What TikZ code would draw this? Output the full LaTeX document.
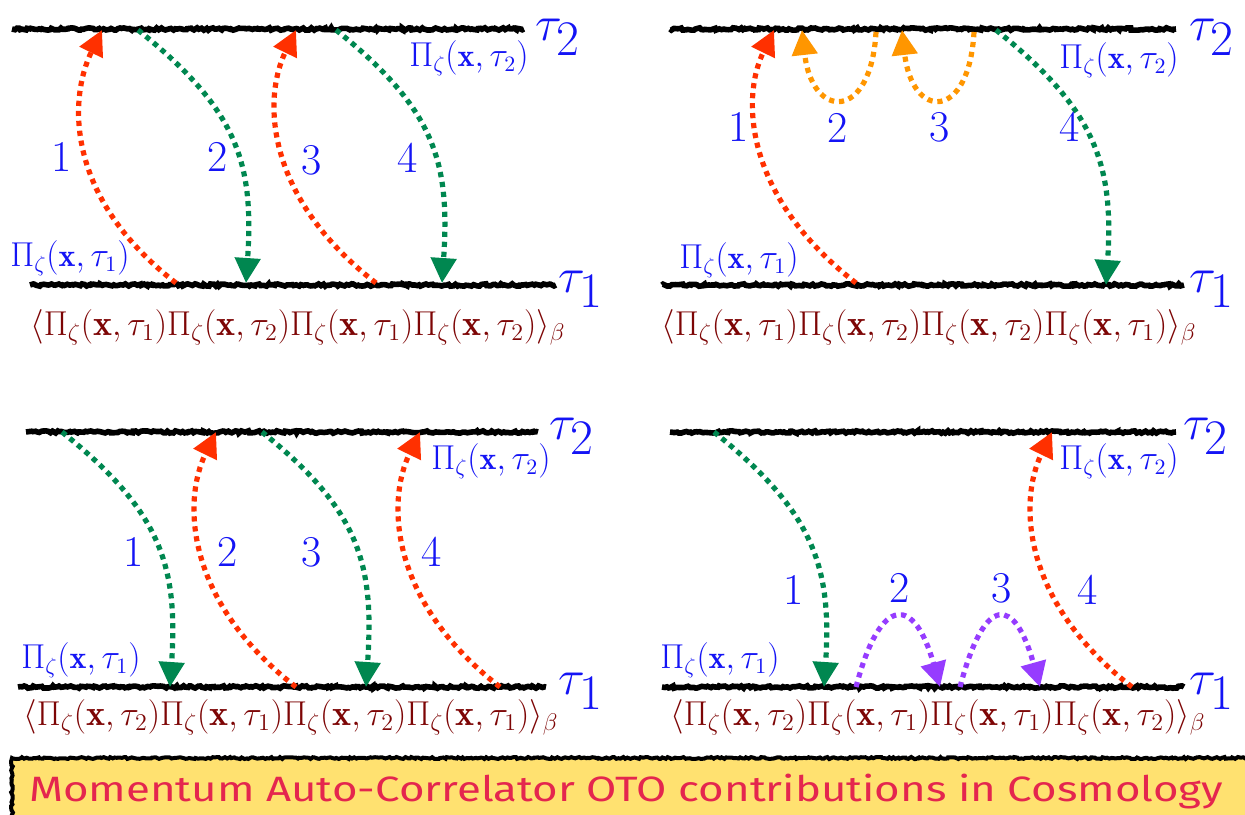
\documentclass[tikz,border=0pt]{standalone}
\usepackage{fontspec}
\usetikzlibrary{arrows.meta,decorations.pathmorphing}
\newfontfamily\bannerfont[FakeStretch=1.245]{Fira Sans}
\definecolor{wickred}{RGB}{255,48,0}
\definecolor{wickgreen}{RGB}{0,135,80}
\definecolor{wickorange}{RGB}{255,150,0}
\definecolor{wickpurple}{RGB}{150,60,255}
\definecolor{lblblue}{RGB}{20,20,245}
\definecolor{corrred}{RGB}{125,5,5}
\definecolor{bannerfill}{RGB}{255,225,112}
\definecolor{bannertext}{RGB}{228,38,78}
\newcommand{\Pz}[1]{\Pi_{\zeta}(\mathbf{x},\tau_{#1})}

\begin{document}
\begin{tikzpicture}[x=0.5pt,y=-0.5pt,
    timeline/.style={black,line width=2.8pt,decorate,
        decoration={random steps,segment length=1.1pt,amplitude=0.6pt}},
    wick/.style={line width=2.6pt,dash pattern=on 2.6pt off 2.4pt,
        -{Triangle[length=12.5pt,width=12.5pt]}},
    numlbl/.style={text=lblblue,font=\fontsize{22}{26}\selectfont},
    taulbl/.style={text=lblblue,font=\fontsize{33}{37}\selectfont},
    pilbl/.style={text=lblblue,font=\fontsize{16}{19}\selectfont},
    corrlbl/.style={text=corrred,font=\fontsize{18}{21}\selectfont}]
    \useasboundingbox (0,0) rectangle (1245,814);

    % top left
    \coordinate (a2w) at (12,29);  \coordinate (a2e) at (524,29);
    \coordinate (a1w) at (30,285); \coordinate (a1e) at (556,285);
    \draw[timeline] (a2w) -- (a2e);
    \draw[timeline] (a1w) -- (a1e);
    \node[taulbl] (a-tau2) at (558,37) {$\tau_2$};
    \node[taulbl] (a-tau1) at (581,289) {$\tau_1$};
    \node[pilbl] (a-pi2) at (469,58) {$\Pz{2}$};
    \node[pilbl] (a-pi1) at (70,258) {$\Pz{1}$};
    \node[corrlbl] (a-corr) at (298,327) {$\langle\Pz{1}\Pz{2}\Pz{1}\Pz{2}\rangle_{\beta}$};
    \coordinate (a-s1) at (176,283); \coordinate (a-e1) at (102,30);
    \coordinate (a-s2) at (138,30);  \coordinate (a-e2) at (246,283);
    \coordinate (a-s3) at (376,283); \coordinate (a-e3) at (296,30);
    \coordinate (a-s4) at (336,30);  \coordinate (a-e4) at (442,283);
    \draw[wick,wickred] (a-s1) .. controls +(-110,-85) and +(-34,70) .. (a-e1);
    \draw[wick,wickgreen] (a-s2) .. controls +(100,80) and +(8,-120) .. (a-e2);
    \draw[wick,wickred] (a-s3) .. controls +(-110,-85) and +(-34,70) .. (a-e3);
    \draw[wick,wickgreen] (a-s4) .. controls +(100,80) and +(8,-120) .. (a-e4);
    \node[numlbl] (a-n1) at (62,157) {1};
    \node[numlbl] (a-n2) at (218,157) {2};
    \node[numlbl] (a-n3) at (312,160) {3};
    \node[numlbl] (a-n4) at (408,158) {4};

    % top right
    \coordinate (b2w) at (670,29);  \coordinate (b2e) at (1176,29);
    \coordinate (b1w) at (662,285); \coordinate (b1e) at (1184,285);
    \draw[timeline] (b2w) -- (b2e);
    \draw[timeline] (b1w) -- (b1e);
    \node[taulbl] (b-tau2) at (1212,37) {$\tau_2$};
    \node[taulbl] (b-tau1) at (1212,289) {$\tau_1$};
    \node[pilbl] (b-pi2) at (1119,60) {$\Pz{2}$};
    \node[pilbl] (b-pi1) at (739,260) {$\Pz{1}$};
    \node[corrlbl] (b-corr) at (929,327) {$\langle\Pz{1}\Pz{2}\Pz{2}\Pz{1}\rangle_{\beta}$};
    \coordinate (b-s1) at (856,283); \coordinate (b-e1) at (774,30);
    \coordinate (b-s2) at (876,32);  \coordinate (b-e2) at (802,30);
    \coordinate (b-s3) at (974,32);  \coordinate (b-e3) at (902,30);
    \coordinate (b-s4) at (996,30);  \coordinate (b-e4) at (1106,285);
    \draw[wick,wickred] (b-s1) .. controls +(-110,-85) and +(-34,70) .. (b-e1);
    \draw[wick,wickorange] (b-s2) .. controls +(-5,90) and +(10,90) .. (b-e2);
    \draw[wick,wickorange] (b-s3) .. controls +(-5,90) and +(10,90) .. (b-e3);
    \draw[wick,wickgreen] (b-s4) .. controls +(100,80) and +(8,-120) .. (b-e4);
    \node[numlbl] (b-n1) at (739,127) {1};
    \node[numlbl] (b-n2) at (838,128) {2};
    \node[numlbl] (b-n3) at (940,127) {3};
    \node[numlbl] (b-n4) at (1070,127) {4};

    % bottom left
    \coordinate (c2w) at (26,432); \coordinate (c2e) at (538,432);
    \coordinate (c1w) at (18,687); \coordinate (c1e) at (546,687);
    \draw[timeline] (c2w) -- (c2e);
    \draw[timeline] (c1w) -- (c1e);
    \node[taulbl] (c-tau2) at (572,436) {$\tau_2$};
    \node[taulbl] (c-tau1) at (581,691) {$\tau_1$};
    \node[pilbl] (c-pi2) at (491,461) {$\Pz{2}$};
    \node[pilbl] (c-pi1) at (81,660) {$\Pz{1}$};
    \node[corrlbl] (c-corr) at (291,717) {$\langle\Pz{2}\Pz{1}\Pz{2}\Pz{1}\rangle_{\beta}$};
    \coordinate (c-s1) at (62,432);  \coordinate (c-e1) at (170,687);
    \coordinate (c-s2) at (296,687); \coordinate (c-e2) at (216,432);
    \coordinate (c-s3) at (262,432); \coordinate (c-e3) at (366,687);
    \coordinate (c-s4) at (500,687); \coordinate (c-e4) at (420,432);
    \draw[wick,wickgreen] (c-s1) .. controls +(100,80) and +(8,-120) .. (c-e1);
    \draw[wick,wickred] (c-s2) .. controls +(-110,-85) and +(-34,70) .. (c-e2);
    \draw[wick,wickgreen] (c-s3) .. controls +(100,80) and +(8,-120) .. (c-e3);
    \draw[wick,wickred] (c-s4) .. controls +(-110,-85) and +(-34,70) .. (c-e4);
    \node[numlbl] (c-n1) at (134,552) {1};
    \node[numlbl] (c-n2) at (228,552) {2};
    \node[numlbl] (c-n3) at (312,552) {3};
    \node[numlbl] (c-n4) at (432,552) {4};

    % bottom right
    \coordinate (d2w) at (670,432); \coordinate (d2e) at (1176,432);
    \coordinate (d1w) at (662,687); \coordinate (d1e) at (1184,687);
    \draw[timeline] (d2w) -- (d2e);
    \draw[timeline] (d1w) -- (d1e);
    \node[taulbl] (d-tau2) at (1206,436) {$\tau_2$};
    \node[taulbl] (d-tau1) at (1212,691) {$\tau_1$};
    \node[pilbl] (d-pi2) at (1119,461) {$\Pz{2}$};
    \node[pilbl] (d-pi1) at (720,660) {$\Pz{1}$};
    \node[corrlbl] (d-corr) at (938,717) {$\langle\Pz{2}\Pz{1}\Pz{1}\Pz{2}\rangle_{\beta}$};
    \coordinate (d-s1) at (714,432);  \coordinate (d-e1) at (824,687);
    \coordinate (d-s2) at (856,687);  \coordinate (d-e2) at (940,687);
    \coordinate (d-s3) at (960,687);  \coordinate (d-e3) at (1040,687);
    \coordinate (d-s4) at (1132,687); \coordinate (d-e4) at (1052,432);
    \draw[wick,wickgreen] (d-s1) .. controls +(100,80) and +(8,-120) .. (d-e1);
    \draw[wick,wickpurple] (d-s2) .. controls +(25,-95) and +(-25,-90) .. (d-e2);
    \draw[wick,wickpurple] (d-s3) .. controls +(25,-95) and +(-25,-90) .. (d-e3);
    \draw[wick,wickred] (d-s4) .. controls +(-110,-85) and +(-34,70) .. (d-e4);
    \node[numlbl] (d-n1) at (794,590) {1};
    \node[numlbl] (d-n2) at (900,588) {2};
    \node[numlbl] (d-n3) at (1002,588) {3};
    \node[numlbl] (d-n4) at (1088,590) {4};

    % banner
    \draw[black,line width=2pt,fill=bannerfill,decorate,
        decoration={random steps,segment length=1.1pt,amplitude=0.5pt}]
        (12,758) rectangle (1270,830);
    \node[anchor=base west,text=bannertext,font=\bannerfont\fontsize{17.6}{21}\selectfont]
        (title) at (22,801) {Momentum Auto-Correlator OTO contributions in Cosmology};
\end{tikzpicture}
\end{document}
